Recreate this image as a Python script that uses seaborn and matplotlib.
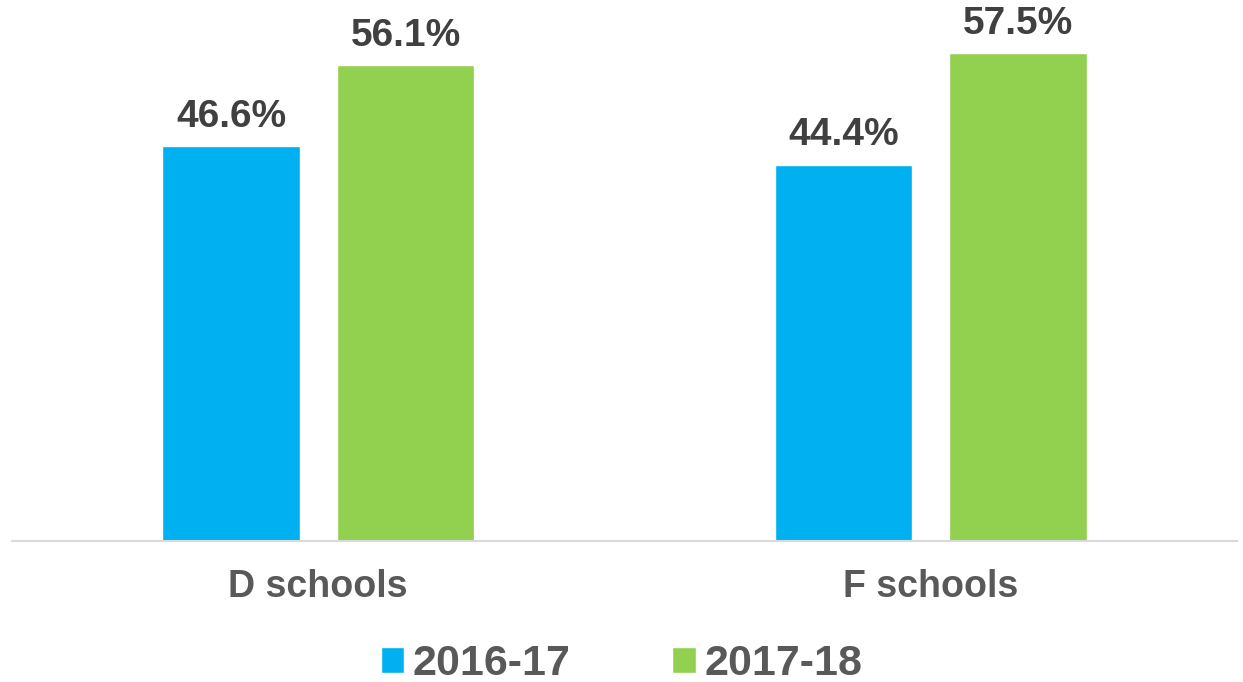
import pandas as pd
import matplotlib.pyplot as plt
import seaborn as sns
from matplotlib.patches import Patch

# ── Data ─────────────────────────────────────────────────────
categories = ["D schools", "F schools"]
years = ["2016-17", "2017-18"]
values_2016 = [46.6, 44.4]
values_2017 = [56.1, 57.5]

df = pd.DataFrame({
    "category": categories * 2,
    "year": [years[0]] * 2 + [years[1]] * 2,
    "value": values_2016 + values_2017,
})

palette = {"2016-17": "#00B0F0", "2017-18": "#92D050"}

sns.set_theme(style="white")
plt.rcParams["font.family"] = ["Liberation Sans", "DejaVu Sans"]

fig = plt.figure(figsize=(12.43, 6.82), dpi=100)
ax = fig.add_axes([12 / 1243, 1 - 541 / 682, 1225 / 1243, 541 / 682])

sns.barplot(data=df, x="category", y="value", hue="year", order=categories,
            hue_order=years, palette=palette, width=0.57, gap=0.214,
            saturation=1, ax=ax, legend=False)

for cont in ax.containers:
    ax.bar_label(cont, labels=[f"{v:.1f}%" for v in cont.datavalues],
                 padding=8, fontsize=28, fontweight="bold", color="#404040")

ax.set_ylim(0, 63.8)
ax.set_xlim(-0.5, 1.5)
ax.set_xlabel("")
ax.set_ylabel("")
ax.set_yticks([])
ax.tick_params(axis="x", length=0, pad=20, labelsize=27, labelcolor="#595959")
for lbl in ax.get_xticklabels():
    lbl.set_fontweight("bold")
for side in ["top", "left", "right"]:
    ax.spines[side].set_visible(False)
ax.spines["bottom"].set_color("#D9D9D9")
ax.spines["bottom"].set_linewidth(1.5)

handles = [Patch(facecolor=palette[y], label=y) for y in years]
fig.legend(handles=handles, loc="center", bbox_to_anchor=(0.5, 1 - 664 / 682),
           ncol=2, frameon=False, handlelength=0.55, handleheight=0.55,
           handletextpad=0.2, columnspacing=2.35,
           prop={"size": 31, "weight": "bold"}, labelcolor="#595959")

plt.savefig("out.png", dpi=100)
